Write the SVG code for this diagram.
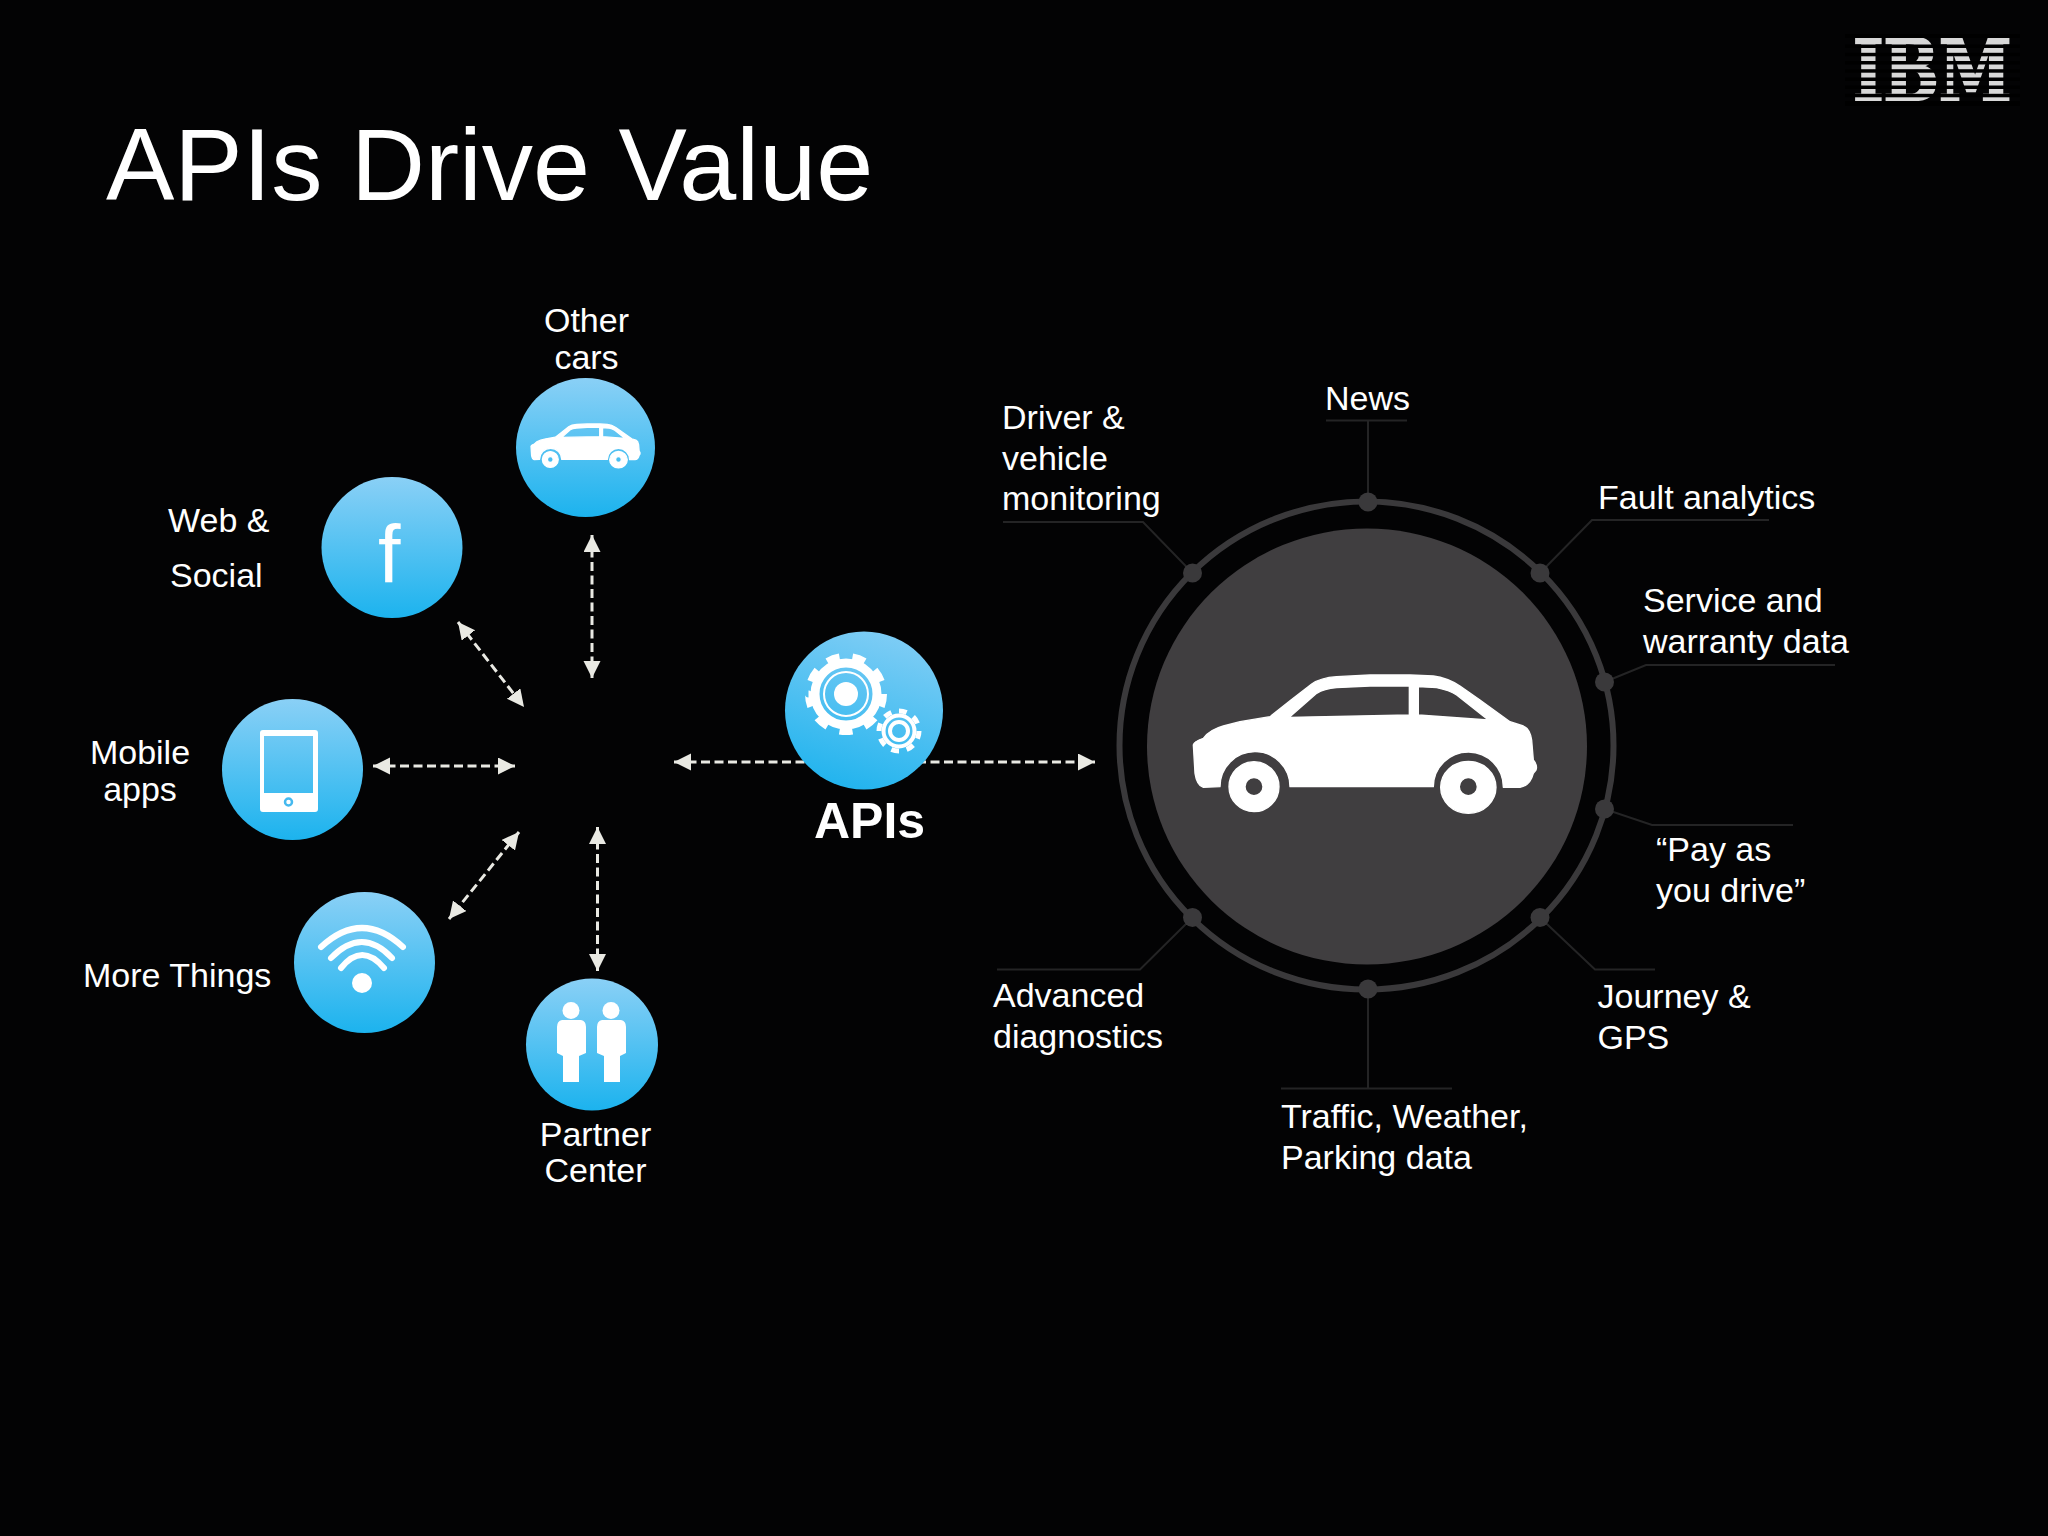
<svg xmlns="http://www.w3.org/2000/svg" width="2048" height="1536" viewBox="0 0 2048 1536">
<style>
text{font-family:"Liberation Sans",Arial,sans-serif;fill:#fff;font-size:34px}
.m{text-anchor:middle}
.conn{fill:none;stroke:#e9e9e3;stroke-width:3;stroke-dasharray:9 4.5;marker-start:url(#ah);marker-end:url(#ah)}
.lead{fill:none;stroke:#242425;stroke-width:2}
.dot{fill:#3a393b}
.ic{fill:#fff}
.st{fill:none;stroke:#fff}
</style>
<defs>
<linearGradient id="blue" x1="0" y1="0" x2="0" y2="1"><stop offset="0" stop-color="#8ad0f6"/><stop offset="1" stop-color="#1cb3ee"/></linearGradient>
<linearGradient id="blue2" x1="0.7" y1="0" x2="0.4" y2="1"><stop offset="0" stop-color="#80cdf5"/><stop offset="1" stop-color="#22b4ee"/></linearGradient>
<marker id="ah" markerUnits="userSpaceOnUse" markerWidth="18" markerHeight="18" refX="17" refY="8.5" orient="auto-start-reverse"><path d="M0 0L17 8.5L0 17Z" fill="#e9e9e3"/></marker>
<path id="car" fill="#fff" fill-rule="evenodd" stroke-linejoin="round" d="M70 255C72 245 85 240 100 235C115 215 135 205 160 198L210 185L300 170L360 122L425 72C445 58 470 52 500 50L600 45L720 45L790 48C820 52 845 62 870 78L930 120L1020 185L1060 198C1075 205 1082 220 1085 240L1090 300C1098 310 1102 320 1098 330L1090 340C1085 360 1075 378 1050 382L1000 382A105 105 0 0 0 790 380L360 380A105 105 0 0 0 150 380L100 382C85 378 78 360 75 340ZM358 172L440 100C460 88 480 85 500 83L600 78L718 78L718 165ZM745 80L800 83C825 88 845 95 860 105L955 180L745 165ZM177 380a75 75 0 1 0 150 0a75 75 0 1 0 -150 0ZM225 380a27 27 0 1 0 54 0a27 27 0 1 0 -54 0ZM812 382a83 78 0 1 0 166 0a83 78 0 1 0 -166 0ZM868 380a27 27 0 1 0 54 0a27 27 0 1 0 -54 0Z"/>
<filter id="soft" x="-5%" y="-5%" width="110%" height="110%"><feGaussianBlur stdDeviation="0.7"/></filter>
</defs>
<rect width="2048" height="1536" fill="#030304"/>
<text id="title" x="106" y="200" style="font-size:102.500px">APIs Drive Value</text>
<g id="ibm-logo" filter="url(#soft)">
<text transform="translate(1853 100) scale(.77 1)" x="0" y="0" style="font-family:'DejaVu Serif',serif;font-weight:bold;font-size:85px;fill:#d8d8d8;stroke:#d8d8d8;stroke-width:2.500">IBM</text>
<g fill="#030304"><rect x="1845" y="34" width="175" height="4"/><rect x="1845" y="44.500" width="175" height="3.500"/><rect x="1845" y="52.800" width="175" height="3.500"/><rect x="1845" y="61" width="175" height="3.500"/><rect x="1845" y="69.200" width="175" height="3.500"/><rect x="1845" y="77.500" width="175" height="3.500"/><rect x="1845" y="85.500" width="175" height="3.500"/><rect x="1845" y="93.800" width="175" height="3.500"/><rect x="1845" y="101" width="175" height="5"/></g>
</g>
<g id="connectors">
<line class="conn" x1="592" y1="535" x2="592" y2="678"/>
<line class="conn" x1="458" y1="622" x2="524" y2="707"/>
<line class="conn" x1="373" y1="766" x2="515" y2="766"/>
<line class="conn" x1="519" y1="832" x2="449" y2="919"/>
<line class="conn" x1="597.500" y1="827" x2="597.500" y2="971"/>
<line class="conn" x1="674" y1="762" x2="1095" y2="762"/>
</g>
<g id="node-other-cars">
<circle cx="585.500" cy="447.500" r="69.500" fill="url(#blue)"/>
<use href="#car" stroke="#fff" stroke-width="12" transform="translate(523.600 419.200) scale(.106)"/>
<text class="m" x="586.500" y="332">Other</text><text class="m" x="586.500" y="369">cars</text>
</g>
<g id="node-web-social">
<circle cx="392" cy="547.500" r="70.500" fill="url(#blue)"/>
<text x="378" y="582" style="font-size:81px">f</text>
<text x="168" y="532">Web &amp;</text><text x="170" y="587">Social</text>
</g>
<g id="node-mobile-apps">
<circle cx="292.500" cy="769.500" r="70.500" fill="url(#blue)"/>
<path class="ic" fill-rule="evenodd" d="M263 730H315a3 3 0 0 1 3 3V809a3 3 0 0 1 -3 3H263a3 3 0 0 1 -3 -3V733a3 3 0 0 1 3 -3ZM264 736V793H313V736Z"/>
<circle cx="288.500" cy="802" r="3.500" fill="none" stroke="#45b9ef" stroke-width="2.500"/>
<text class="m" x="140" y="764">Mobile</text><text class="m" x="140" y="801">apps</text>
</g>
<g id="node-more-things">
<circle cx="364.500" cy="962.500" r="70.500" fill="url(#blue)"/>
<path class="st" stroke-width="6" stroke-linecap="round" d="M321 947Q362 909 403 947M331 958Q362 926 392 958M341 968Q362 942 384 968"/>
<ellipse class="ic" cx="362" cy="983" rx="10" ry="10"/>
<text x="83" y="987">More Things</text>
</g>
<g id="node-partner-center">
<circle cx="592" cy="1044.500" r="66" fill="url(#blue)"/>
<g class="ic">
<circle cx="571" cy="1010.500" r="8.500"/><path d="M562 1020H581Q586 1021 586 1027V1053L579 1056V1082H563V1056L557 1053V1027Q557 1021 562 1020Z"/>
<circle cx="611" cy="1010.500" r="8.500"/><path d="M602 1020H621Q626 1021 626 1027V1053L620 1056V1082H604V1056L597 1053V1027Q597 1021 602 1020Z"/>
</g>
<text class="m" x="595.500" y="1146">Partner</text><text class="m" x="595.500" y="1182">Center</text>
</g>
<g id="node-apis">
<circle cx="864" cy="710.500" r="79" fill="url(#blue2)"/>
<g class="st">
<circle cx="846" cy="694" r="37.500" stroke-width="7" pathLength="18" stroke-dasharray="1 1"/>
<circle cx="846" cy="694" r="31" stroke-width="9"/>
<circle cx="846" cy="694" r="22" stroke-width="2"/>
<circle cx="899" cy="731" r="20" stroke-width="5" pathLength="16" stroke-dasharray="1 1"/>
<circle cx="899" cy="731" r="15.500" stroke-width="4"/>
<circle cx="899" cy="731" r="9" stroke-width="4"/>
</g>
<circle class="ic" cx="846" cy="694" r="12"/>
<text x="814" y="838" style="font-size:50px;font-weight:bold">APIs</text>
</g>
<g id="node-car-hub">
<ellipse cx="1366.500" cy="745.500" rx="247" ry="244" fill="none" stroke="#3a393b" stroke-width="6"/>
<ellipse cx="1367" cy="746.500" rx="220" ry="218" fill="#403e40"/>
<use href="#car" stroke="#fff" stroke-width="4" transform="translate(1170 660) scale(.33333)"/>
</g>
<g id="leaders" class="lead">
<path d="M1326 420.500H1407M1368 420.500V502"/>
<path d="M1003 522H1143L1192.500 573"/>
<path d="M1769 520H1592L1540 573"/>
<path d="M1835 665H1646L1604.500 682"/>
<path d="M1793 825H1652L1604.500 809"/>
<path d="M1655 969.500H1595L1540 917.500"/>
<path d="M997 969.500H1140L1192.500 917.500"/>
<path d="M1281 1088.500H1452M1368 989V1088.500"/>
</g>
<g id="dots" class="dot">
<circle cx="1368" cy="502" r="9.500"/><circle cx="1192.500" cy="573" r="9.500"/><circle cx="1540" cy="573" r="9.500"/><circle cx="1604.500" cy="682" r="9.500"/><circle cx="1604.500" cy="809" r="9.500"/><circle cx="1540" cy="917.500" r="9.500"/><circle cx="1192.500" cy="917.500" r="9.500"/><circle cx="1368" cy="989" r="9.500"/>
</g>
<g id="label-news"><text x="1325" y="410">News</text></g>
<g id="label-driver"><text x="1002" y="429">Driver &amp;</text><text x="1002" y="470">vehicle</text><text x="1002" y="510">monitoring</text></g>
<g id="label-fault"><text x="1598" y="509">Fault analytics</text></g>
<g id="label-service"><text x="1643" y="612">Service and</text><text x="1643" y="653">warranty data</text></g>
<g id="label-pay"><text x="1656" y="861">“Pay as</text><text x="1656" y="902">you drive”</text></g>
<g id="label-journey"><text x="1597.500" y="1008">Journey &amp;</text><text x="1597.500" y="1049">GPS</text></g>
<g id="label-traffic"><text x="1281" y="1127.500">Traffic, Weather,</text><text x="1281" y="1169">Parking data</text></g>
<g id="label-advanced"><text x="993" y="1007">Advanced</text><text x="993" y="1048">diagnostics</text></g>
</svg>
